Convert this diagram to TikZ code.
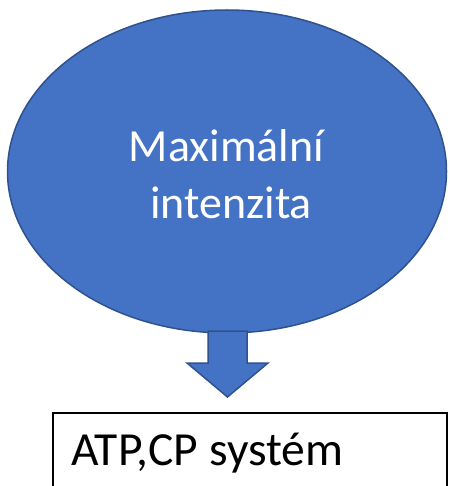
\documentclass[tikz,border=0pt]{standalone}
\usepackage{fontspec}
\setmainfont{Carlito}
\usetikzlibrary{shapes.geometric}
\definecolor{blfill}{HTML}{4472C4}
\definecolor{bldraw}{HTML}{2F528F}
\tikzset{
  blob/.style={ellipse, fill=blfill, draw=bldraw, line width=1.5pt, inner sep=0pt},
  wtxt/.style={text=white, font=\fontsize{46}{52}\selectfont, inner sep=0pt, anchor=base},
  btxt/.style={text=black, font=\fontsize{47.5}{52}\selectfont, inner sep=0pt, anchor=base west},
  boxstyle/.style={draw=black, line width=1.8pt, inner sep=0pt},
  blockarrow/.style={fill=blfill, draw=bldraw, line width=1.5pt, line join=miter}
}
\begin{document}
\begin{tikzpicture}[x=1pt,y=-1pt]
\useasboundingbox (0,0) rectangle (449,486);
\clip (0,0) rectangle (449,486);
\node[blob, minimum width=439pt, minimum height=323pt] (ell) at (227,171.5) {};
\node[wtxt] (t1) at (226.5,162) {Maximální};
\node[wtxt] (t2) at (231,218) {intenzita};
\node[boxstyle, minimum width=394pt, minimum height=100pt, anchor=north west] (box) at (52,412) {};
\node[btxt] (t3) at (71,465) {ATP,CP systém};
\coordinate (tip) at (227.5,397);
\draw[blockarrow] (208,331) -- (247,331) -- (247,363) -- (268,363) -- (tip) -- (187,363) -- (208,363) -- cycle;
\end{tikzpicture}
\end{document}
